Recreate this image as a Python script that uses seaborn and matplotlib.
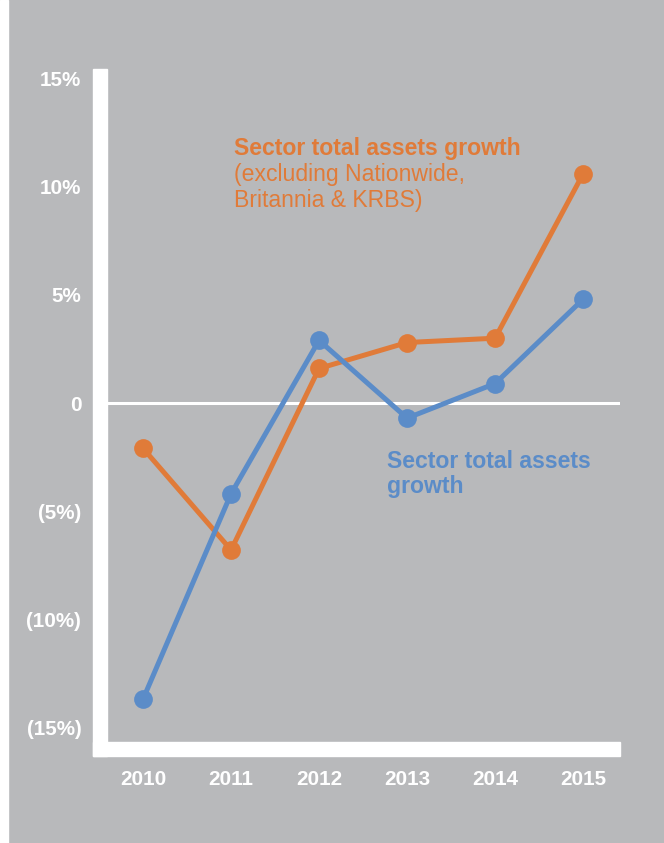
import matplotlib
matplotlib.use("Agg")
import matplotlib.pyplot as plt
import seaborn as sns
import pandas as pd
from matplotlib.patches import Rectangle

years = ["2010", "2011", "2012", "2013", "2014", "2015"]
sector_growth = [-13.7, -4.2, 2.9, -0.7, 0.9, 4.8]
sector_growth_excl = [-2.1, -6.8, 1.6, 2.8, 3.0, 10.6]
ytick_values = [15, 10, 5, 0, -5, -10, -15]
ytick_labels = ["15%", "10%", "5%", "0", "(5%)", "(10%)", "(15%)"]

BG = "#B8B9BB"
ORANGE = "#E07B39"
BLUE = "#5B8CC8"

sns.set_theme(style="white")
plt.rcParams["font.family"] = ["Liberation Sans", "DejaVu Sans"]

W, H = 664, 843
fig = plt.figure(figsize=(W / 100, H / 100), dpi=100, facecolor=BG)

def fx(px):
    return px / W

def fy(py):
    return 1 - py / H

# white strip on the left edge
fig.patches.append(Rectangle((0, 0), fx(8), 1, transform=fig.transFigure,
                             color="white", zorder=0))

ax_l, ax_r, ax_t, ax_b = 107, 620, 69, 742
ax = fig.add_axes([fx(ax_l), fy(ax_b), fx(ax_r - ax_l), (ax_b - ax_t) / H])
ax.set_facecolor(BG)
for s in ax.spines.values():
    s.set_visible(False)

# thick white axis bars
fig.patches.append(Rectangle((fx(93), fy(756)), fx(14), (756 - 69) / H,
                             transform=fig.transFigure, color="white", zorder=1))
fig.patches.append(Rectangle((fx(93), fy(756)), fx(620 - 93), 14 / H,
                             transform=fig.transFigure, color="white", zorder=1))

df = pd.DataFrame({
    "x": list(range(len(years))) * 2,
    "value": sector_growth + sector_growth_excl,
    "series": ["blue"] * len(years) + ["orange"] * len(years),
})

ax.axhline(0, color="white", lw=2.2, zorder=1)

sns.lineplot(data=df[df.series == "blue"], x="x", y="value", color=BLUE,
             marker="o", markersize=13.5, markeredgewidth=0, linewidth=3.6,
             ax=ax, zorder=3)
sns.lineplot(data=df[df.series == "orange"], x="x", y="value", color=ORANGE,
             marker="o", markersize=13.5, markeredgewidth=0, linewidth=3.6,
             ax=ax, zorder=2)

ax.set_xlim(-0.41, 5.42)
ax.set_ylim(-15.69, 15.46)
ax.set_xticks(range(len(years)))
ax.set_xticklabels(years)
ax.set_yticks(ytick_values)
ax.set_yticklabels(ytick_labels)
ax.tick_params(axis="both", length=0, colors="white", labelsize=14.9)
ax.tick_params(axis="y", pad=18.5)
ax.tick_params(axis="x", pad=20)
for lab in ax.get_xticklabels() + ax.get_yticklabels():
    lab.set_fontweight("bold")
    lab.set_color("white")
ax.set_xlabel("")
ax.set_ylabel("")
ax.grid(False)

# annotations
fig.text(fx(234), fy(148), "Sector total assets growth", color=ORANGE,
         fontsize=16.6, fontweight="bold", ha="left", va="center")
fig.text(fx(234), fy(175), "(excluding Nationwide,", color=ORANGE,
         fontsize=16.6, ha="left", va="center")
fig.text(fx(234), fy(201), "Britannia & KRBS)", color=ORANGE,
         fontsize=16.6, ha="left", va="center")
fig.text(fx(387), fy(461), "Sector total assets", color=BLUE,
         fontsize=16.6, fontweight="bold", ha="left", va="center")
fig.text(fx(387), fy(487), "growth", color=BLUE,
         fontsize=16.6, fontweight="bold", ha="left", va="center")

fig.savefig("out.png", dpi=100, facecolor=BG)
